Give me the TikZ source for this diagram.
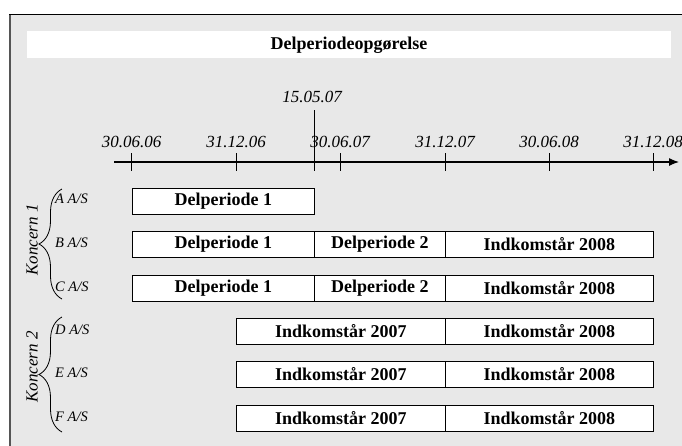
\documentclass[tikz,border=0pt]{standalone}
\usepackage{fontspec}
\setmainfont{Liberation Serif}
\usetikzlibrary{decorations.pathreplacing,arrows.meta}
\definecolor{panel}{HTML}{E8E8E8}
\definecolor{rim}{HTML}{555555}
\begin{document}
\begin{tikzpicture}[x=1pt,y=-1pt,
  period/.style={draw=black, line width=0.9pt, fill=white, minimum height=26pt,
    inner sep=0pt, anchor=west, font=\fontsize{18}{20}\selectfont\bfseries},
  datelbl/.style={font=\fontsize{17}{20}\selectfont\itshape, inner sep=0pt},
  firm/.style={font=\fontsize{14.5}{17}\selectfont\itshape, anchor=west, inner sep=0pt},
  group/.style={font=\fontsize{17}{20}\selectfont\itshape, rotate=90, inner sep=0pt},
  grpbrace/.style={decorate, decoration={brace, amplitude=23pt}, line width=0.8pt},
  tickmark/.style={line width=0.9pt}]
\useasboundingbox (0,0) rectangle (682,445);
% panel with its rim
\fill[panel] (9,14) rectangle (690,450);
\draw[rim, line width=2.5pt] (10,14) -- (10,450);
\draw[black, line width=1pt] (9,14) -- (690,14);
% title band
\fill[white] (27,31) rectangle (671,58);
\node[font=\fontsize{18}{20}\selectfont\bfseries, inner sep=0pt] (title) at (349,45) {Delperiodeopgørelse};

% time axis
\coordinate (axstart) at (114,162);
\coordinate (axend) at (679,162);
\draw[-{Latex[length=10pt,width=8pt]}, line width=1.2pt] (axstart) -- (axend);
\foreach \x/\lbl [count=\i] in {131.5/30.06.06, 236/31.12.06, 340/30.06.07, 445/31.12.07, 549/30.06.08, 653/31.12.08}{
  \coordinate (t\i) at (\x,162);
  \draw[tickmark] (\x,153) -- (\x,171);
  \node[datelbl] (d\i) at (\x,142) {\lbl};
}
% cut-off date
\coordinate (cuttop) at (314,110);
\coordinate (cutbot) at (314,171);
\draw[line width=0.9pt] (cuttop) -- (cutbot);
\node[datelbl] (cut) at (312,97) {15.05.07};

% periods per company
\node[period, minimum width=182pt] (a1) at (132,201) {Delperiode 1};

\node[period, minimum width=182pt] (b1) at (132,244.5) {Delperiode 1};
\node[period, minimum width=131pt] (b2) at (314,244.5) {Delperiode 2};
\node[period, minimum width=208pt] (b3) at (445,244.5) {Indkomstår 2008};

\node[period, minimum width=182pt] (c1) at (132,288) {Delperiode 1};
\node[period, minimum width=131pt] (c2) at (314,288) {Delperiode 2};
\node[period, minimum width=208pt] (c3) at (445,288) {Indkomstår 2008};

\node[period, minimum width=209pt] (d1) at (236,331) {Indkomstår 2007};
\node[period, minimum width=208pt] (d2) at (445,331) {Indkomstår 2008};

\node[period, minimum width=209pt] (e1) at (236,374.5) {Indkomstår 2007};
\node[period, minimum width=208pt] (e2) at (445,374.5) {Indkomstår 2008};

\node[period, minimum width=209pt] (f1) at (236,418) {Indkomstår 2007};
\node[period, minimum width=208pt] (f2) at (445,418) {Indkomstår 2008};

% company names
\node[firm] (fa) at (55,199) {A A/S};
\node[firm] (fb) at (55,243) {B A/S};
\node[firm] (fc) at (55,286.5) {C A/S};
\node[firm] (fd) at (55,329.5) {D A/S};
\node[firm] (fe) at (55,373) {E A/S};
\node[firm] (ff) at (55,416.5) {F A/S};

% groups
\draw[grpbrace] (62,299) -- (62,189);
\draw[grpbrace] (62,432) -- (62,317);
\node[group] (k1) at (32,240) {Koncern 1};
\node[group] (k2) at (32,367) {Koncern 2};
\end{tikzpicture}
\end{document}
